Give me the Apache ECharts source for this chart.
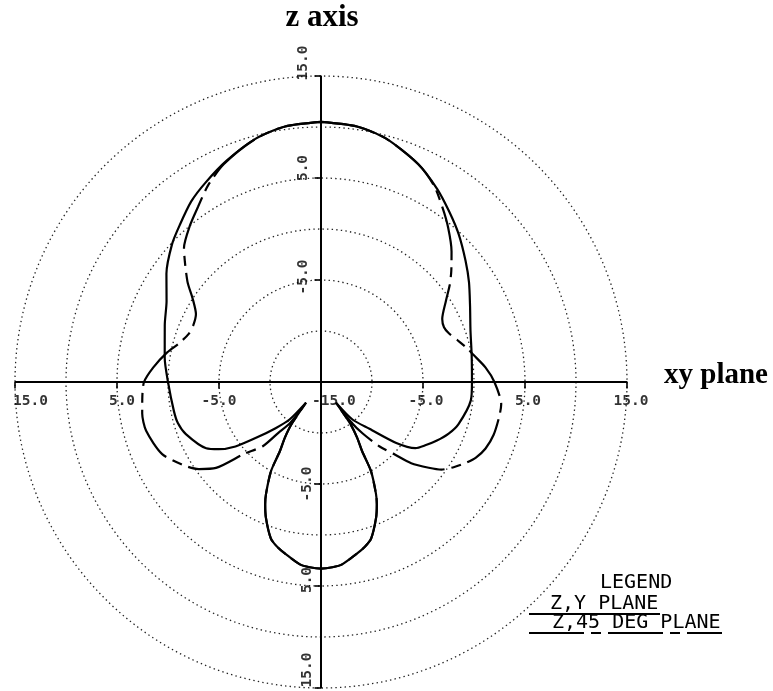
<!DOCTYPE html>
<html>
<head>
<meta charset="utf-8">
<script src="https://cdn.jsdelivr.net/npm/echarts@6/dist/echarts.min.js"></script>
<style>
  html, body { margin: 0; padding: 0; background: #fff; }
  #chart { width: 773px; height: 691px; }
</style>
</head>
<body>
<div id="chart"></div>
<script>
// Radiation pattern in dB, angle measured clockwise from the +z axis (degrees)
const zyAngles = [0, 8, 15, 24, 31, 37, 43, 50, 56, 63, 71, 80, 90, 97, 107, 112, 117, 121, 125, 129, 134, 140, 144,
  145, 147, 149.3, 150.7, 153.8, 155.5, 158, 162.2, 165, 168.2, 173.4, 176.5, 180,
  183.5, 186.6, 191.8, 195, 197.8, 202, 204.5, 206.2, 209.3, 210.7, 213, 215, 216,
  220, 224.4, 229.3, 233, 236.7, 240, 248.9, 254, 258.8, 270, 278.7, 290, 297.7, 305, 312.8, 318, 324.3, 330, 337, 345, 352, 360];
const zyGain = [10.5, 10.3, 9.7, 8.4, 7.1, 5.9, 4.8, 3.5, 2.5, 1.4, 0.5, 0.0, -0.2, -0.2, -0.9, -1.5, -2.3, -3.0, -3.7, -5.5, -8.4, -10.2, -12.5,
  -10.0, -8.5, -7.1, -5.0, -2.8, -1.8, -0.6, 1.1, 1.7, 2.2, 3.0, 3.2, 3.3,
  3.2, 3.0, 2.2, 1.7, 1.1, -0.6, -1.8, -2.8, -5.0, -7.1, -8.5, -10.0, -12.5,
  -10.2, -8.7, -6.6, -4.5, -3.0, -2.0, -0.8, -0.4, -0.3, 0.0, 0.5, 1.3, 2.1, 3.5, 4.9, 5.7, 6.8, 7.6, 8.6, 9.7, 10.3, 10.5];

const z45Angles = [0, 8, 15, 24, 30, 35, 39.5, 45, 49.5, 53, 57, 62.5, 66, 69, 73, 77, 80, 85, 90, 97, 101, 107, 112, 116, 119, 122.5,
  126, 128.5, 132, 134.6, 137.8, 141, 143, 144,
  145, 147, 149.3, 150.7, 153.8, 155.5, 158, 162.2, 165, 168.2, 173.4, 176.5, 180,
  183.5, 186.6, 191.8, 195, 197.8, 202, 204.5, 206.2, 209.3, 210.7, 213, 215, 216,
  217, 220, 222.2, 226.9, 230.7, 234.5, 238.1, 245.6, 254.4, 260, 264.6, 270, 275, 280.7, 285.4, 290, 294, 298.5,
  303, 307, 314.4, 320, 325, 330, 336, 345, 352, 360];
const z45Gain = [10.5, 10.3, 9.7, 8.4, 7.2, 5.8, 4.6, 3.1, 1.8, 0.8, -0.4, -1.6, -1.8, -1.6, -1.0, -0.3, 0.2, 1.2, 2.0, 2.8, 2.8, 2.7, 2.4, 1.9, 1.3, 0.5,
  -0.4, -1.5, -3.1, -4.9, -6.5, -8.5, -10.0, -12.5,
  -10.0, -8.5, -7.1, -5.0, -2.8, -1.8, -0.6, 1.1, 1.7, 2.2, 3.0, 3.2, 3.3,
  3.2, 3.0, 2.2, 1.7, 1.1, -0.6, -1.8, -2.8, -5.0, -7.1, -8.5, -10.0, -12.5,
  -10.0, -8.5, -6.5, -4.7, -1.7, -0.3, 0.6, 2.1, 2.8, 2.8, 2.6, 2.35, 1.5, 0.4, -0.6, -1.2, -1.3, -1.05,
  0.0, 1.4, 3.8, 5.0, 6.0, 7.2, 8.4, 9.7, 10.3, 10.5];

// Labelled gain values on each arm of the cross, and the value at the centre
const armTicks = [15, 5, -5];
const centerTick = -15;
const armAngles = [0, 90, 180, 270];   // up, right, down, left

const legendTitle = 'LEGEND';
const legendNames = ['Z,Y PLANE', 'Z,45 DEG PLANE'];
const verticalTitle = 'z axis';
const horizontalTitle = 'xy plane';

const RMIN = -15, RMAX = 15;
const CX = 321, CY = 382, RADIUS = 306;

const ink = '#000';
const labelFont = '"DejaVu Sans Mono", monospace';
const serif = '"Liberation Serif", "Times New Roman", serif';

function pairs(angles, gains) {
  return angles.map((a, i) => [gains[i], a]);
}

// Placement of each tick label relative to its tick.
// For the rotated (vertical-arm) labels the offset turns with the text,
// so a screen shift (sx, sy) is given as [-sy, sx].
function labelPlacement(angle, v) {
  if (angle === 270) {
    if (v === 15) return { off: [-2, 19], align: 'left', rot: 0 };
    return { off: [v === 5 ? 5 : 0, 19], align: 'center', rot: 0 };
  }
  if (angle === 90) {
    if (v === RMIN) return { off: [-9, 19], align: 'left', rot: 0 };
    return { off: [v === 15 ? 4 : 3, 19], align: 'center', rot: 0 };
  }
  let s;
  if (angle === 0) s = v === 15 ? [-18, -13] : (v === 5 ? [-18, -10] : [-18, -3]);
  else s = v === 15 ? [-14, -18] : (v === 5 ? [-14, -6] : [-14, 0]);
  return { off: [-s[1], s[0]], align: 'center', rot: 90 };
}

const tickData = [];
const labelData = [];
armAngles.forEach(a => {
  armTicks.forEach(v => {
    const horiz = (a === 90 || a === 270);
    tickData.push({
      value: [v, a],
      symbolSize: horiz ? [2, 7] : [7, 2],
      symbolOffset: horiz ? [0, 3] : [-3, 0]
    });
    const p = labelPlacement(a, v);
    labelData.push({
      value: [v, a],
      label: { offset: p.off, align: p.align, rotate: p.rot }
    });
  });
});
{
  const p = labelPlacement(90, centerTick);
  labelData.push({ value: [centerTick, 90], label: { offset: p.off, align: p.align, rotate: 0 } });
}

const chart = echarts.init(document.getElementById('chart'), null, { renderer: 'canvas' });

const option = {
  animation: false,
  backgroundColor: '#fff',
  polar: { center: [CX, CY], radius: RADIUS },
  angleAxis: {
    type: 'value', min: 0, max: 360, startAngle: 90, clockwise: true,
    axisLine: { show: false }, axisTick: { show: false }, axisLabel: { show: false }, splitLine: { show: false }
  },
  radiusAxis: {
    type: 'value', min: RMIN, max: RMAX, interval: 5,
    axisLine: { show: false }, axisTick: { show: false }, axisLabel: { show: false },
    splitLine: { show: true, lineStyle: { color: '#222', width: 1.3, type: [1.4, 3.2] } }
  },
  graphic: [
    { type: 'text', x: 322, y: 18, style: { text: verticalTitle, font: 'bold 31px ' + serif, fill: ink, textAlign: 'center', textVerticalAlign: 'middle' } },
    { type: 'text', x: 664, y: 376, style: { text: horizontalTitle, font: 'bold 29px ' + serif, fill: ink, textAlign: 'left', textVerticalAlign: 'middle' } },
    { type: 'text', x: 600, y: 583, style: { text: legendTitle, font: '20px ' + labelFont, fill: ink, textAlign: 'left', textVerticalAlign: 'middle' } },
    { type: 'text', x: 550, y: 604, style: { text: legendNames[0], font: '20px ' + labelFont, fill: ink, textAlign: 'left', textVerticalAlign: 'middle' } },
    { type: 'line', shape: { x1: 529, y1: 614, x2: 660, y2: 614 }, style: { stroke: ink, lineWidth: 2 } },
    { type: 'text', x: 552, y: 623, style: { text: legendNames[1], font: '20px ' + labelFont, fill: ink, textAlign: 'left', textVerticalAlign: 'middle' } },
    { type: 'line', shape: { x1: 529, y1: 633, x2: 722, y2: 633 }, style: { stroke: ink, lineWidth: 2, lineDash: [55, 7, 10, 7] } }
  ],
  series: [
    {
      name: 'axes-h', type: 'line', coordinateSystem: 'polar', symbol: 'none', silent: true,
      data: [[RMAX, 270], [RMIN, 270], [RMAX, 90]],
      lineStyle: { color: ink, width: 2 }, z: 3
    },
    {
      name: 'axes-v', type: 'line', coordinateSystem: 'polar', symbol: 'none', silent: true,
      data: [[RMAX, 0], [RMIN, 0], [RMAX, 180]],
      lineStyle: { color: ink, width: 2 }, z: 3
    },
    {
      name: 'ticks', type: 'scatter', coordinateSystem: 'polar', symbol: 'rect', silent: true,
      data: tickData, itemStyle: { color: ink }, z: 4
    },
    {
      name: 'tick-labels', type: 'scatter', coordinateSystem: 'polar', symbolSize: 0, silent: true,
      data: labelData,
      label: {
        show: true, position: 'inside', color: ink,
        fontFamily: labelFont, fontSize: 14.5, fontWeight: 'bold', verticalAlign: 'middle',
        formatter: p => p.value[0].toFixed(1)
      },
      z: 5
    },
    {
      name: legendNames[0], type: 'line', coordinateSystem: 'polar', symbol: 'none', smooth: 0.25,
      data: pairs(zyAngles, zyGain),
      lineStyle: { color: ink, width: 2.2 }, z: 6
    },
    {
      name: legendNames[1], type: 'line', coordinateSystem: 'polar', symbol: 'none', smooth: 0.25,
      data: pairs(z45Angles, z45Gain),
      lineStyle: { color: ink, width: 2.2, type: [55, 7, 10, 7] }, z: 6
    }
  ]
};

chart.setOption(option);
</script>
</body>
</html>
